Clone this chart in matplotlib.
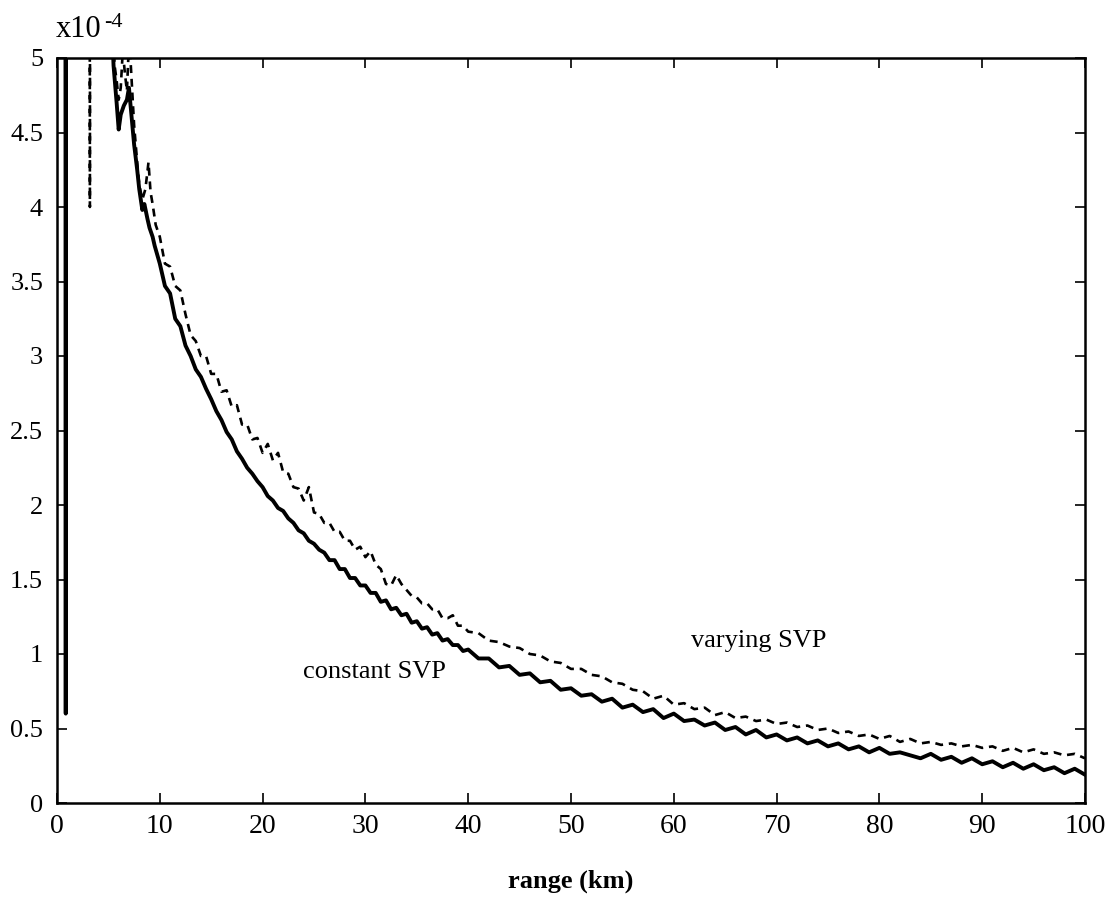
import matplotlib
matplotlib.use("Agg")
import matplotlib.pyplot as plt

plt.rcParams['font.family'] = ['Liberation Serif', 'DejaVu Serif']

# range (km) and values (x1e-4) for constant SVP (solid)
const_x = [0.80, 0.85, 0.90, 5.3, 5.5, 5.8, 6.0, 6.2, 6.5, 6.8, 7.0, 7.2, 7.5, 7.8, 8.0, 8.3, 8.5, 8.8,
           9.0, 9.3, 9.5, 10.0, 10.5, 11.0, 11.5, 12.0, 12.5, 13.0, 13.5, 14.0, 14.5, 15.0, 15.5,
           16.0, 16.5, 17.0, 17.5, 18.0, 18.5, 19.0, 19.5, 20.0, 20.5, 21.0, 21.5, 22.0, 22.5,
           23.0, 23.5, 24.0, 24.5, 25.0, 25.5, 26.0, 26.5, 27.0, 27.5, 28.0, 28.5, 29.0, 29.5,
           30.0, 30.5, 31.0, 31.5, 32.0, 32.5, 33.0, 33.5, 34.0, 34.5, 35.0, 35.5, 36.0, 36.5,
           37.0, 37.5, 38.0, 38.5, 39.0, 39.5, 40.0,
           41, 42, 43, 44, 45, 46, 47, 48, 49, 50, 51, 52, 53, 54, 55, 56, 57, 58, 59, 60,
           61, 62, 63, 64, 65, 66, 67, 68, 69, 70, 71, 72, 73, 74, 75, 76, 77, 78, 79, 80,
           81, 82, 83, 84, 85, 86, 87, 88, 89, 90, 91, 92, 93, 94, 95, 96, 97, 98, 99, 100]
const_y = [9.0, 0.60, 9.0, 5.30, 4.95, 4.70, 4.52, 4.62, 4.68, 4.72, 4.80, 4.65, 4.42, 4.25, 4.12, 3.98, 4.02, 3.92,
           3.86, 3.80, 3.74, 3.62, 3.47, 3.42, 3.25, 3.20, 3.07, 3.00, 2.91, 2.86, 2.78, 2.71, 2.63,
           2.57, 2.49, 2.44, 2.36, 2.31, 2.25, 2.21, 2.16, 2.12, 2.06, 2.03, 1.98, 1.96, 1.91,
           1.88, 1.83, 1.81, 1.76, 1.74, 1.70, 1.68, 1.63, 1.63, 1.57, 1.57, 1.51, 1.51, 1.46,
           1.46, 1.41, 1.41, 1.35, 1.36, 1.30, 1.31, 1.26, 1.27, 1.21, 1.22, 1.17, 1.18, 1.13,
           1.14, 1.09, 1.10, 1.06, 1.06, 1.02, 1.03,
           0.97, 0.97, 0.91, 0.92, 0.86, 0.87, 0.81, 0.82, 0.76, 0.77, 0.72, 0.73, 0.68, 0.70, 0.64, 0.66, 0.61, 0.63, 0.57, 0.60,
           0.55, 0.56, 0.52, 0.54, 0.49, 0.51, 0.46, 0.49, 0.44, 0.46, 0.42, 0.44, 0.40, 0.42, 0.38, 0.40, 0.36, 0.38, 0.34, 0.37,
           0.33, 0.34, 0.32, 0.30, 0.33, 0.29, 0.31, 0.27, 0.30, 0.26, 0.28, 0.24, 0.27, 0.23, 0.26, 0.22, 0.24, 0.20, 0.23, 0.19]

# varying SVP (dashed)
vary_x = [3.15, 3.20, 3.25, 5.4, 5.6, 5.8, 6.0, 6.2, 6.4, 6.6, 6.8, 7.0, 7.1, 7.3, 7.5, 7.8, 8.0, 8.3, 8.6,
          8.9, 9.1, 9.3, 9.6, 10.0, 10.5, 11.0, 11.5, 12.0, 12.5, 13.0, 13.5, 14.0, 14.5, 15.0, 15.5,
          16.0, 16.5, 17.0, 17.5, 18.0, 18.5, 19.0, 19.5, 20.0, 20.5, 21.0, 21.5, 22.0, 22.5,
          23.0, 23.5, 24.0, 24.5, 25.0, 25.5, 26.0, 26.5, 27.0, 27.5, 28.0, 28.5, 29.0, 29.5,
          30.0, 30.5, 31.0, 31.5, 32.0, 32.5, 33.0, 33.5, 34.0, 34.5, 35.0, 35.5, 36.0, 36.5,
          37.0, 37.5, 38.0, 38.5, 39.0, 39.5, 40.0,
          41, 42, 43, 44, 45, 46, 47, 48, 49, 50, 51, 52, 53, 54, 55, 56, 57, 58, 59, 60,
          61, 62, 63, 64, 65, 66, 67, 68, 69, 70, 71, 72, 73, 74, 75, 76, 77, 78, 79, 80,
          81, 82, 83, 84, 85, 86, 87, 88, 89, 90, 91, 92, 93, 94, 95, 96, 97, 98, 99, 100]
vary_y = [9.0, 4.00, 9.0, 5.30, 4.95, 4.85, 4.72, 4.80, 5.05, 4.90, 4.78, 5.10, 5.05, 4.80, 4.55, 4.30, 4.15, 4.05, 4.12,
          4.30, 4.10, 4.02, 3.88, 3.80, 3.62, 3.60, 3.47, 3.44, 3.28, 3.14, 3.10, 3.00, 3.00, 2.88, 2.88,
          2.76, 2.77, 2.66, 2.67, 2.54, 2.54, 2.44, 2.45, 2.35, 2.41, 2.30, 2.35, 2.22, 2.21,
          2.12, 2.11, 2.03, 2.12, 1.95, 1.94, 1.88, 1.88, 1.82, 1.82, 1.76, 1.76, 1.70, 1.72,
          1.65, 1.69, 1.60, 1.57, 1.47, 1.46, 1.53, 1.47, 1.43, 1.39, 1.38, 1.34, 1.34, 1.30,
          1.30, 1.24, 1.24, 1.26, 1.19, 1.19, 1.15,
          1.14, 1.09, 1.08, 1.05, 1.04, 1.00, 0.99, 0.95, 0.94, 0.90, 0.90, 0.86, 0.85, 0.81, 0.80, 0.76, 0.75, 0.70, 0.72, 0.66,
          0.67, 0.63, 0.64, 0.59, 0.61, 0.57, 0.58, 0.55, 0.56, 0.53, 0.54, 0.51, 0.52, 0.49, 0.50, 0.47, 0.48, 0.45, 0.46, 0.43,
          0.45, 0.41, 0.43, 0.40, 0.41, 0.39, 0.40, 0.38, 0.39, 0.37, 0.38, 0.35, 0.37, 0.34, 0.36, 0.33, 0.34, 0.32, 0.33, 0.30]

x_ticks = [0, 10, 20, 30, 40, 50, 60, 70, 80, 90, 100]
y_ticks = [0, 0.5, 1, 1.5, 2, 2.5, 3, 3.5, 4, 4.5, 5]
y_tick_labels = ['0', '0.5', '1', '1.5', '2', '2.5', '3', '3.5', '4', '4.5', '5']

fig = plt.figure(figsize=(11.12, 9.06), dpi=100)
ax = fig.add_axes([57/1112, 1 - 803/906, (1085 - 57)/1112, (803 - 58)/906])

ax.plot(const_x, const_y, color='black', lw=2.8, solid_joinstyle='round')
ax.plot(vary_x, vary_y, color='black', lw=1.9, dashes=(3, 2.2))

ax.set_xlim(0, 100)
ax.set_ylim(0, 5)
ax.set_xticks(x_ticks)
ax.set_yticks(y_ticks)
ax.set_yticklabels(y_tick_labels)
ax.tick_params(direction='in', length=7, width=1.2, top=True, right=True)
ax.tick_params(axis='x', pad=8, labelsize=20)
ax.tick_params(axis='y', pad=10, labelsize=19)
for s in ax.spines.values():
    s.set_linewidth(1.8)

ax.set_xlabel('range (km)', fontsize=19, fontweight='bold', labelpad=22)
ax.text(30.9, 0.88, 'constant SVP', fontsize=19, ha='center', va='center')
ax.text(68.3, 1.09, 'varying SVP', fontsize=19, ha='center', va='center')
fig.text(56/1112, 1 - 37/906, 'x10', fontsize=22, ha='left', va='baseline')
fig.text(104/1112, 1 - 27/906, '-4', fontsize=16, ha='left', va='baseline')

fig.savefig('out.png', dpi=100)
